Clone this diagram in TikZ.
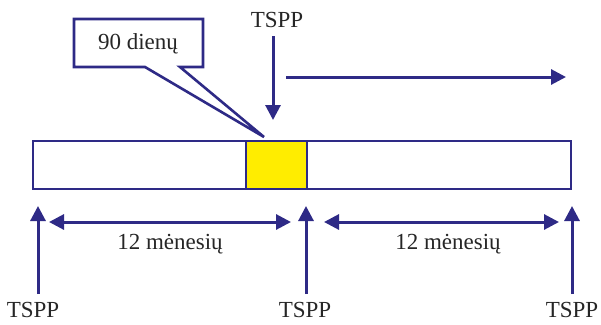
\documentclass[tikz,border=0pt]{standalone}
\usepackage{fontspec}
\setmainfont{Liberation Serif}
\usetikzlibrary{arrows.meta}
\definecolor{navy}{HTML}{2E2A86}
\definecolor{yel}{HTML}{FFED00}
\begin{document}
\begin{tikzpicture}[x=1pt,y=-1pt,
  lbl/.style={font=\fontsize{23}{26}\selectfont, text=black!85, inner sep=0pt},
  arr/.style={draw=navy, line width=3pt, -{Triangle[length=15pt,width=15pt]}},
  darr/.style={draw=navy, line width=3pt, {Triangle[length=15pt,width=15pt]}-{Triangle[length=15pt,width=15pt]}},
  frame/.style={draw=navy, line width=2.6pt}]
\useasboundingbox (0,0) rectangle (601,324);
% bar
\path[frame, fill=white] (33,141) rectangle (571,189);
\path[frame, fill=yel] (246,141) rectangle (307,189);
% callout
\path[frame, fill=white, line join=miter] (74,19) -- (203,19) -- (203,67) -- (180,67) -- (264,137) -- (145,67) -- (74,67) -- cycle;
\node[lbl] (d90) at (138,44) {90 dienų};
% top
\node[lbl] (ttop) at (277,20) {TSPP};
\coordinate (tA) at (273,36);
\coordinate (tB) at (273,120);
\draw[arr] (tA) -- (tB);
\coordinate (hA) at (286,77);
\coordinate (hB) at (566,77);
\draw[arr] (hA) -- (hB);
% bottom labels
\node[lbl] (b1) at (33,310) {TSPP};
\node[lbl] (b2) at (305,310) {TSPP};
\node[lbl] (b3) at (572,310) {TSPP};
\coordinate (u1a) at (38,294);
\coordinate (u1b) at (38,206);
\coordinate (u2a) at (306,294);
\coordinate (u2b) at (306,206);
\coordinate (u3a) at (572,294);
\coordinate (u3b) at (572,206);
\draw[arr] (u1a) -- (u1b);
\draw[arr] (u2a) -- (u2b);
\draw[arr] (u3a) -- (u3b);
\coordinate (d1a) at (49,222);
\coordinate (d1b) at (291,222);
\coordinate (d2a) at (324,222);
\coordinate (d2b) at (559,222);
\draw[darr] (d1a) -- (d1b);
\draw[darr] (d2a) -- (d2b);
\node[lbl] (m1) at (170,244) {12 mėnesių};
\node[lbl] (m2) at (448,244) {12 mėnesių};
\end{tikzpicture}
\end{document}
